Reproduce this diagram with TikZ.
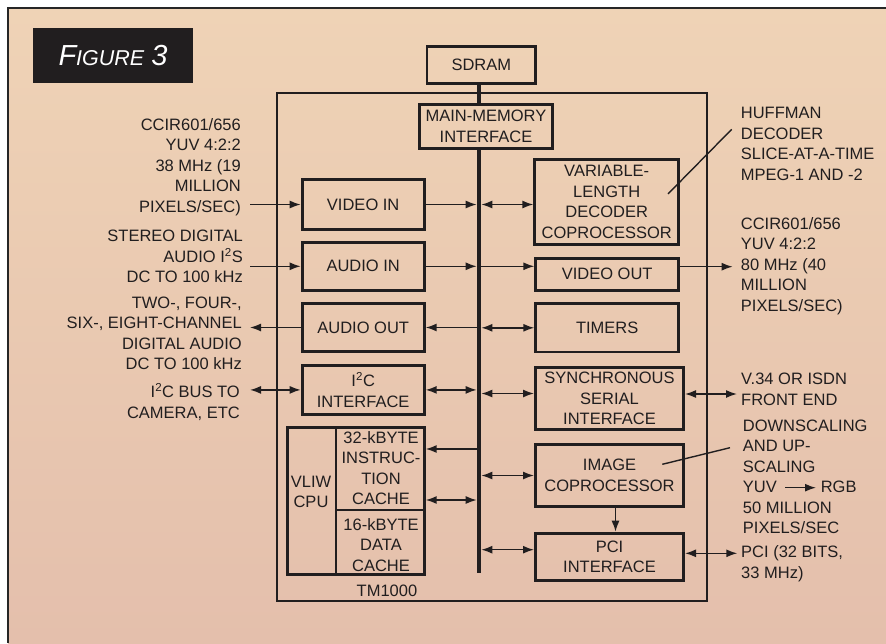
\documentclass[tikz,border=0pt]{standalone}
\usepackage{fontspec}
\setmainfont{Liberation Sans}
\usetikzlibrary{arrows.meta,positioning}

\definecolor{ink}{RGB}{33,30,31}
\definecolor{bgtop}{RGB}{239,211,182}
\definecolor{bgbot}{RGB}{228,191,172}

\tikzset{
  blk/.style={draw=ink, line width=2.8pt, inner sep=0pt, align=center, text=ink},
  lbl/.style={inner sep=0pt, text=ink},
  arr/.style={draw=ink, line width=1.5pt, -{Latex[length=11pt,width=8pt]}},
  darr/.style={draw=ink, line width=1.5pt, {Latex[length=11pt,width=8pt]}-{Latex[length=11pt,width=8pt]}},
  busline/.style={draw=ink, line width=4.5pt},
  leader/.style={draw=ink, line width=1.4pt},
}

\begin{document}
\begin{tikzpicture}[x=1pt,y=-1pt,font=\fontsize{16.5}{20.5}\selectfont]
  \useasboundingbox (0,0) rectangle (886,643);
  % paper
  \fill[white] (0,0) rectangle (886,643);
  \shade[top color=bgtop, bottom color=bgbot] (8,8) rectangle (886,643);
  \draw[line width=1.5pt, draw=black!85] (8,643) -- (8,8) -- (886,8);

  \node[fill=ink, text=white, minimum width=160pt, minimum height=55pt, inner sep=0pt] (figlbl) at (113,55.5)
    {\itshape{\fontsize{29}{29}\selectfont F}{\fontsize{21.5}{21.5}\selectfont IGURE}\hspace{7pt}{\fontsize{29}{29}\selectfont 3}};

  % chip outline
  \draw[ink, line width=2.2pt] (277,93) rectangle (707,601);
  \node[lbl] (tmname) at (387,591) {TM1000};

  % memory
  \node[blk, minimum width=108.5pt, minimum height=37.2pt] (sdram) at (481.3,65) {SDRAM};
  \node[blk, minimum width=133.2pt, minimum height=44.2pt] (mmi) at (486,126.5) {MAIN-MEMORY\\INTERFACE};

  % left column
  \node[blk, minimum width=122.2pt, minimum height=49.6pt] (vin) at (363.2,204.5) {VIDEO IN};
  \node[blk, minimum width=122.2pt, minimum height=47.9pt] (ain) at (363.2,266.3) {AUDIO IN};
  \node[blk, minimum width=122.2pt, minimum height=48.2pt] (aout) at (363.2,327.5) {AUDIO OUT};
  \node[blk, minimum width=122.2pt, minimum height=48.9pt] (i2c) at (363.2,389.9) {I\textsuperscript{2}C\\INTERFACE};

  % cpu
  \node[blk, minimum width=137.2pt, minimum height=147.2pt] (cpu) at (355.7,501) {};
  \draw[ink, line width=1.2pt] ([xshift=-19.7pt]cpu.north) -- ([xshift=-19.7pt]cpu.south);
  \draw[ink, line width=1.2pt] ([xshift=-19.7pt,yshift=-9pt]cpu.center) -- ([yshift=-9pt]cpu.east);
  \node[lbl, align=center] (vliw) at (311,492) {VLIW\\CPU};
  \node[lbl, align=center] (icache) at (381,468) {32-kBYTE\\INSTRUC-\\TION\\CACHE};
  \node[lbl, align=center] (dcache) at (381,545) {16-kBYTE\\DATA\\CACHE};

  % right column
  \node[blk, minimum width=143.9pt, minimum height=84.9pt] (vld) at (606.7,201.9) {VARIABLE-\\LENGTH\\DECODER\\COPROCESSOR};
  \node[blk, minimum width=142.9pt, minimum height=32.2pt] (vout) at (607.2,274.2) {VIDEO OUT};
  \node[blk, minimum width=142.9pt, minimum height=48.2pt] (timers) at (607.2,327.8) {TIMERS};
  \node[blk, minimum width=148.2pt, minimum height=62.2pt] (sync) at (609.5,398.5) {SYNCHRONOUS\\SERIAL\\INTERFACE};
  \node[blk, minimum width=148.2pt, minimum height=62.2pt] (image) at (609.5,475.5) {IMAGE\\COPROCESSOR};
  \node[blk, minimum width=148.2pt, minimum height=47.2pt] (pci) at (609.5,556.7) {PCI\\INTERFACE};

  % outside texts
  \node[lbl, align=right, anchor=east] (vintxt) at (241,167) {CCIR601/656\\YUV 4:2:2\\38 MHz (19\\MILLION\\PIXELS/SEC)};
  \node[lbl, align=right, anchor=east] (aintxt) at (243,256.7) {STEREO DIGITAL\\AUDIO I\textsuperscript{2}S\\DC TO 100 kHz};
  \node[lbl, align=right, anchor=east] (aouttxt) at (242,333.3) {TWO-, FOUR-,\\SIX-, EIGHT-CHANNEL\\DIGITAL AUDIO\\DC TO 100 kHz};
  \node[lbl, align=right, anchor=east] (i2ctxt) at (240,402) {I\textsuperscript{2}C BUS TO\\CAMERA, ETC};
  \node[lbl, align=left, anchor=west] (hufftxt) at (740.7,144) {HUFFMAN\\DECODER\\SLICE-AT-A-TIME\\MPEG-1 AND -2};
  \node[lbl, align=left, anchor=west] (vouttxt) at (740.7,266.2) {CCIR601/656\\YUV 4:2:2\\80 MHz (40\\MILLION\\PIXELS/SEC)};
  \node[lbl, align=left, anchor=west] (synctxt) at (741,389.3) {V.34 OR ISDN\\FRONT END};
  \node[lbl, align=left, anchor=west] (downtxt) at (742.7,477) {DOWNSCALING\\AND UP-\\SCALING\\YUV\hspace{44pt}RGB\\50 MILLION\\PIXELS/SEC};
  \node[lbl, align=left, anchor=west] (pcitxt) at (741,563.7) {PCI (32 BITS,\\33 MHz)};

  % bus
  \coordinate (busend) at (479,573);
  \draw[busline] (sdram.south -| busend) -- (mmi.north -| busend);
  \draw[busline] (mmi.south -| busend) -- (busend);

  % ports
  \coordinate (icport) at ([yshift=-23pt]cpu.north east);
  \coordinate (dcport) at ([yshift=-74pt]cpu.north east);
  \coordinate (syncport) at ([yshift=5pt]sync.west);
  \coordinate (pciport) at ([yshift=7pt]pci.west);
  \coordinate (voutport) at ([yshift=7.5pt]vout.east);
  \coordinate (syncout) at ([yshift=4.5pt]sync.east);
  \coordinate (pciout) at ([yshift=3.4pt]pci.east);

  % outside connections
  \draw[arr, shorten <=9pt] (vin.west -| vintxt.east) -- (vin.west);
  \draw[arr, shorten <=7pt] (ain.west -| aintxt.east) -- (ain.west);
  \draw[arr, shorten >=8pt] (aout.west) -- (aout.west -| aouttxt.east);
  \draw[darr, shorten >=10pt] (i2c.west) -- (i2c.west -| i2ctxt.east);
  \draw[arr, shorten >=8pt] (voutport) -- (voutport -| vouttxt.west);
  \draw[darr, shorten >=4pt] (syncout) -- (syncout -| synctxt.west);
  \draw[darr, shorten >=3.7pt] (pciout) -- (pciout -| pcitxt.west);

  % bus connections
  \draw[arr, shorten >=2.3pt] (vin.east) -- (vin.east -| busend);
  \draw[arr, shorten >=2.3pt] (ain.east) -- (ain.east -| busend);
  \draw[arr, shorten <=2.3pt] (ain.east -| busend) -- (ain.east -| vout.west);
  \draw[arr, shorten <=2.3pt] (aout.east -| busend) -- (aout.east);
  \draw[darr, shorten >=2.3pt] (i2c.east) -- (i2c.east -| busend);
  \draw[arr, shorten <=2.3pt] (icport -| busend) -- (icport);
  \draw[darr, shorten >=2.3pt] (dcport) -- (dcport -| busend);
  \draw[darr, shorten <=2.3pt] (vin.east -| busend) -- (vin.east -| vld.west);
  \draw[darr, shorten <=2.3pt] (timers.west -| busend) -- (timers.west);
  \draw[darr, shorten <=2.3pt] (syncport -| busend) -- (syncport);
  \draw[darr, shorten <=2.3pt] (image.west -| busend) -- (image.west);
  \draw[darr, shorten <=2.3pt] (pciport -| busend) -- (pciport);
  \draw[arr] ([xshift=6pt]image.south) -- ([xshift=6pt]pci.north);

  % leaders
  \draw[leader] ([xshift=-12pt,yshift=8pt]vld.east) -- ([xshift=-9pt,yshift=14.7pt]hufftxt.west);
  \draw[leader] ([xshift=-22.7pt,yshift=11.2pt]image.east) -- ([xshift=-12.7pt,yshift=29.3pt]downtxt.west);
  \draw[arr] ([xshift=42.3pt,yshift=-10.7pt]downtxt.west) -- ([xshift=73.3pt,yshift=-10.7pt]downtxt.west);
\end{tikzpicture}
\end{document}
